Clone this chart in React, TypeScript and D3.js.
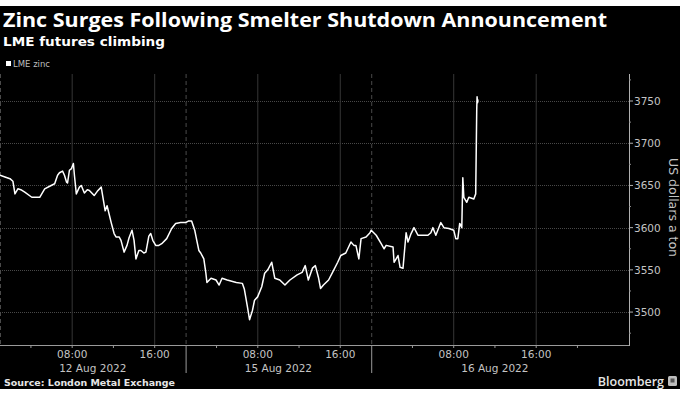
import { useEffect, useRef } from 'react';
import * as d3 from 'd3';

const WIDTH = 680;
const HEIGHT = 394;
const PLOT = { left: 0, right: 629, top: 74, bottom: 345 };

const FONT = "'Open Sans', 'DejaVu Sans', sans-serif";
const BOLD_FONT = "'DejaVu Sans', sans-serif";
const AXIS_FONT = "'DejaVu Sans', sans-serif";

// trading sessions shown on the axis (start, end) and the date label of each
const SESSIONS: [string, string][] = [
  ['2022-08-12 01:00', '2022-08-12 19:00'],
  ['2022-08-15 01:00', '2022-08-15 19:00'],
  ['2022-08-16 00:00', '2022-08-17 01:00'],
];
const SESSION_LABELS = ['12 Aug 2022', '15 Aug 2022', '16 Aug 2022'];
const SESSION_LABEL_SPAN: [string, string][] = [
  ['2022-08-12 01:00', '2022-08-12 19:00'],
  ['2022-08-15 01:00', '2022-08-15 19:00'],
  ['2022-08-16 00:00', '2022-08-16 23:59'],
];
const MINOR_HOURS = [[4, 8, 12, 16], [4, 8, 12, 16], [4, 8, 12, 16, 20]];
const LABEL_HOURS = [8, 16];

const Y_DOMAIN: [number, number] = [3461, 3782];
const Y_TICKS = [3500, 3550, 3600, 3650, 3700, 3750];
const Y_MINOR = [3475, 3525, 3575, 3625, 3675, 3725, 3775];

// LME zinc, US$/t
const AUG12: [string, number][] = [
  ['01:00', 3662], ['01:29', 3660], ['01:58', 3658], ['02:15', 3655], ['02:27', 3640],
  ['02:44', 3646], ['03:01', 3645], ['03:24', 3642], ['04:05', 3636], ['04:51', 3636],
  ['05:20', 3646], ['05:49', 3649], ['06:18', 3652], ['06:35', 3662], ['06:46', 3665],
  ['07:04', 3667], ['07:15', 3662], ['07:27', 3654], ['07:33', 3653], ['07:44', 3668],
  ['07:56', 3670], ['08:07', 3676], ['08:13', 3662], ['08:24', 3640], ['08:42', 3648],
  ['08:53', 3650], ['09:11', 3641], ['09:28', 3645], ['09:40', 3644], ['10:08', 3638],
  ['10:26', 3643], ['10:49', 3648], ['11:12', 3620], ['11:23', 3626], ['11:47', 3606],
  ['12:04', 3593], ['12:15', 3589], ['12:33', 3589], ['12:44', 3585], ['13:02', 3571],
  ['13:19', 3579], ['13:31', 3588], ['13:48', 3597], ['14:00', 3585], ['14:11', 3563],
  ['14:28', 3573], ['14:40', 3573], ['14:57', 3570], ['15:09', 3571], ['15:26', 3590],
  ['15:37', 3593], ['15:49', 3585], ['16:06', 3579], ['16:24', 3579], ['16:41', 3581],
  ['17:10', 3587], ['17:39', 3599], ['18:02', 3605], ['18:31', 3606], ['18:54', 3606],
];
const AUG15: [string, number][] = [
  ['01:00', 3606], ['01:18', 3608], ['01:35', 3608], ['01:53', 3597], ['02:05', 3585],
  ['02:17', 3573], ['02:28', 3570], ['02:46', 3563], ['02:58', 3546], ['03:04', 3535],
  ['03:28', 3540], ['03:57', 3538], ['04:15', 3532], ['04:32', 3540], ['05:02', 3538],
  ['05:55', 3535], ['06:30', 3534], ['06:42', 3527], ['07:00', 3506], ['07:12', 3491],
  ['07:29', 3502], ['07:41', 3514], ['07:59', 3518], ['08:23', 3530], ['08:40', 3546],
  ['08:58', 3550], ['09:21', 3559], ['09:39', 3540], ['10:08', 3538], ['10:38', 3532],
  ['11:07', 3538], ['11:49', 3544], ['12:18', 3547], ['12:36', 3555], ['12:54', 3538],
  ['13:18', 3552], ['13:35', 3555], ['13:53', 3541], ['14:05', 3528], ['14:22', 3532],
  ['14:52', 3538], ['15:15', 3547], ['15:45', 3559], ['16:03', 3567], ['16:32', 3570],
  ['17:02', 3583], ['17:19', 3579], ['17:31', 3579], ['17:48', 3563], ['18:01', 3587],
  ['18:30', 3589], ['18:53', 3594],
];
const AUG16: [string, number][] = [
  ['00:00', 3597], ['00:29', 3591], ['00:58', 3581], ['01:15', 3575], ['01:27', 3579],
  ['02:07', 3577], ['02:13', 3559], ['02:36', 3567], ['02:48', 3553], ['03:05', 3552],
  ['03:23', 3594], ['03:34', 3583], ['03:52', 3593], ['04:09', 3600], ['04:32', 3591],
  ['05:30', 3591], ['05:47', 3594], ['05:59', 3600], ['06:16', 3591], ['06:45', 3606],
  ['07:03', 3600], ['07:32', 3599], ['08:00', 3597], ['08:12', 3587], ['08:24', 3587],
  ['08:35', 3605], ['08:47', 3600], ['08:53', 3659], ['08:59', 3636], ['09:16', 3630],
  ['09:28', 3636], ['09:57', 3634], ['10:08', 3640], ['10:14', 3740], ['10:16', 3755],
  ['10:19', 3748], ['10:21', 3752],
];
const DAY_DATES = ['2022-08-12', '2022-08-15', '2022-08-16'];

const parse = d3.timeParse('%Y-%m-%d %H:%M');

export default function App() {
  const svgRef = useRef<SVGSVGElement | null>(null);

  useEffect(() => {
    const svgEl = svgRef.current;
    if (!svgEl) return;
    const svg = d3.select(svgEl);
    svg.selectAll('*').remove();

    // piecewise time scale: each session gets width in proportion to its hours
    const sessionDates = SESSIONS.map(([a, b]) => [parse(a)!, parse(b)!]);
    const hours = sessionDates.map(([a, b]) => (+b - +a) / 3.6e6);
    const totalHours = d3.sum(hours);
    const domain: Date[] = [];
    const range: number[] = [];
    let acc = 0;
    sessionDates.forEach(([a, b], i) => {
      domain.push(a);
      range.push(PLOT.left + (acc / totalHours) * (PLOT.right - PLOT.left));
      acc += hours[i];
      domain.push(b);
      range.push(PLOT.left + (acc / totalHours) * (PLOT.right - PLOT.left));
    });
    const x = d3.scaleTime().domain(domain).range(range);
    const y = d3.scaleLinear().domain(Y_DOMAIN).range([PLOT.bottom, PLOT.top]);

    svg.append('rect').attr('width', WIDTH).attr('height', HEIGHT).attr('fill', '#ffffff');
    svg.append('rect').attr('y', 6).attr('width', WIDTH).attr('height', 383).attr('fill', '#000000');

    // ---- titles -----------------------------------------------------------
    svg.append('text')
      .attr('x', 3).attr('y', 26.5)
      .attr('font-family', FONT).attr('font-weight', 700).attr('font-size', 20)
      .attr('fill', '#ffffff')
      .attr('textLength', 604).attr('lengthAdjust', 'spacingAndGlyphs')
      .text('Zinc Surges Following Smelter Shutdown Announcement');
    svg.append('text')
      .attr('x', 3).attr('y', 46)
      .attr('font-family', BOLD_FONT).attr('font-weight', 700).attr('font-size', 12.5)
      .attr('fill', '#ffffff')
      .attr('textLength', 162).attr('lengthAdjust', 'spacingAndGlyphs')
      .text('LME futures climbing');

    // legend
    svg.append('rect').attr('x', 6).attr('y', 61).attr('width', 5).attr('height', 5).attr('fill', '#ffffff');
    svg.append('text')
      .attr('x', 13).attr('y', 67)
      .attr('font-family', AXIS_FONT).attr('font-size', 8.5)
      .attr('fill', '#bdbdbd')
      .text('LME zinc');

    // ---- grid -------------------------------------------------------------
    svg.append('g')
      .selectAll('line')
      .data(Y_TICKS)
      .join('line')
      .attr('x1', PLOT.left).attr('x2', PLOT.right)
      .attr('y1', (d) => Math.round(y(d)) + 0.5).attr('y2', (d) => Math.round(y(d)) + 0.5)
      .attr('stroke', '#484848').attr('stroke-width', 1)
      .attr('stroke-dasharray', '1 1');

    const gridTimes: Date[] = [];
    const minorTimes: Date[] = [];
    DAY_DATES.forEach((day, i) => {
      MINOR_HOURS[i].forEach((h) => {
        const t = parse(`${day} ${String(h).padStart(2, '0')}:00`)!;
        minorTimes.push(t);
        if (LABEL_HOURS.includes(h)) gridTimes.push(t);
      });
    });

    svg.append('g')
      .selectAll('line')
      .data(gridTimes)
      .join('line')
      .attr('x1', (d) => x(d)).attr('x2', (d) => x(d))
      .attr('y1', PLOT.top).attr('y2', PLOT.bottom)
      .attr('stroke', '#363636').attr('stroke-width', 1);

    const sessionStarts = sessionDates.map(([a]) => x(a));
    svg.append('g')
      .selectAll('line')
      .data(sessionStarts)
      .join('line')
      .attr('x1', (d) => d + 0.5).attr('x2', (d) => d + 0.5)
      .attr('y1', PLOT.top).attr('y2', PLOT.bottom)
      .attr('stroke', '#4a4a4a').attr('stroke-width', 1)
      .attr('stroke-dasharray', '4 3');

    // ---- x axis -----------------------------------------------------------
    const xAxis = svg.append('g');
    xAxis.append('line')
      .attr('x1', PLOT.left).attr('x2', PLOT.right)
      .attr('y1', PLOT.bottom + 0.5).attr('y2', PLOT.bottom + 0.5)
      .attr('stroke', '#9a9a9a');
    xAxis.selectAll('line.minor')
      .data(minorTimes)
      .join('line')
      .attr('class', 'minor')
      .attr('x1', (d) => x(d)).attr('x2', (d) => x(d))
      .attr('y1', PLOT.bottom).attr('y2', PLOT.bottom + 3)
      .attr('stroke', '#9a9a9a');
    xAxis.selectAll('line.sep')
      .data(sessionStarts.slice(1))
      .join('line')
      .attr('class', 'sep')
      .attr('x1', (d) => d + 0.5).attr('x2', (d) => d + 0.5)
      .attr('y1', PLOT.bottom).attr('y2', PLOT.bottom + 28)
      .attr('stroke', '#9a9a9a');
    xAxis.selectAll('text.hour')
      .data(gridTimes)
      .join('text')
      .attr('class', 'hour')
      .attr('x', (d) => x(d)).attr('y', 358)
      .attr('text-anchor', 'middle')
      .attr('font-family', AXIS_FONT).attr('font-size', 10.5)
      .attr('fill', '#c4c4c4')
      .text((d) => d3.timeFormat('%H:%M')(d));
    xAxis.selectAll('text.day')
      .data(SESSION_LABEL_SPAN)
      .join('text')
      .attr('class', 'day')
      .attr('x', ([a, b]) => (x(parse(a)!) + x(parse(b)!)) / 2)
      .attr('y', 372)
      .attr('text-anchor', 'middle')
      .attr('font-family', AXIS_FONT).attr('font-size', 10.5)
      .attr('fill', '#c4c4c4')
      .text((_, i) => SESSION_LABELS[i]);

    // ---- y axis (right) ---------------------------------------------------
    const yAxis = svg.append('g');
    yAxis.append('line')
      .attr('x1', PLOT.right + 0.5).attr('x2', PLOT.right + 0.5)
      .attr('y1', PLOT.top).attr('y2', PLOT.bottom + 1)
      .attr('stroke', '#b0b0b0');
    yAxis.selectAll('line.major')
      .data(Y_TICKS)
      .join('line')
      .attr('class', 'major')
      .attr('x1', PLOT.right).attr('x2', PLOT.right + 4)
      .attr('y1', (d) => y(d)).attr('y2', (d) => y(d))
      .attr('stroke', '#b0b0b0');
    yAxis.selectAll('line.minor')
      .data(Y_MINOR)
      .join('line')
      .attr('class', 'minor')
      .attr('x1', PLOT.right).attr('x2', PLOT.right + 2)
      .attr('y1', (d) => y(d)).attr('y2', (d) => y(d))
      .attr('stroke', '#8a8a8a');
    yAxis.selectAll('text')
      .data(Y_TICKS)
      .join('text')
      .attr('x', PLOT.right + 5).attr('y', (d) => y(d) + 4)
      .attr('font-family', AXIS_FONT).attr('font-size', 10.5)
      .attr('fill', '#c4c4c4')
      .text((d) => d);
    yAxis.append('text')
      .attr('transform', `translate(669, ${(PLOT.top + PLOT.bottom) / 2 - 2}) rotate(90)`)
      .attr('text-anchor', 'middle')
      .attr('font-family', AXIS_FONT).attr('font-size', 12.5)
      .attr('fill', '#c4c4c4')
      .text('US dollars a ton');

    // ---- price line -------------------------------------------------------
    const series = [AUG12, AUG15, AUG16].flatMap((rows, i) =>
      rows.map(([t, v]) => ({ date: parse(`${DAY_DATES[i]} ${t}`)!, value: v })),
    );
    const line = d3.line<{ date: Date; value: number }>()
      .x((d) => x(d.date))
      .y((d) => y(d.value));
    svg.append('path')
      .datum(series)
      .attr('fill', 'none')
      .attr('stroke', '#ffffff')
      .attr('stroke-width', 1.5)
      .attr('stroke-linejoin', 'round')
      .attr('d', line);

    // ---- footer -----------------------------------------------------------
    svg.append('text')
      .attr('x', 4).attr('y', 386)
      .attr('font-family', BOLD_FONT).attr('font-weight', 700).attr('font-size', 9.5)
      .attr('fill', '#e6e6e6')
      .attr('textLength', 171).attr('lengthAdjust', 'spacingAndGlyphs')
      .text('Source: London Metal Exchange');
    svg.append('text')
      .attr('x', 664).attr('y', 386)
      .attr('text-anchor', 'end')
      .attr('font-family', FONT).attr('font-weight', 600).attr('font-size', 12.5)
      .attr('fill', '#e6e6e6')
      .text('Bloomberg');
    svg.append('rect')
      .attr('x', 668).attr('y', 376).attr('width', 9).attr('height', 10)
      .attr('rx', 1.5)
      .attr('fill', '#bdbdbd');
    svg.append('rect')
      .attr('x', 670.5).attr('y', 378.5).attr('width', 4).attr('height', 4)
      .attr('fill', '#555555');
  }, []);

  return (
    <div>
      <style>{'body{margin:0;background:#000}'}</style>
      <svg
        ref={svgRef}
        width={WIDTH}
        height={HEIGHT}
        style={{ display: 'block' }}
        role="img"
        aria-label="LME zinc futures price, 12-16 Aug 2022"
      />
    </div>
  );
}
